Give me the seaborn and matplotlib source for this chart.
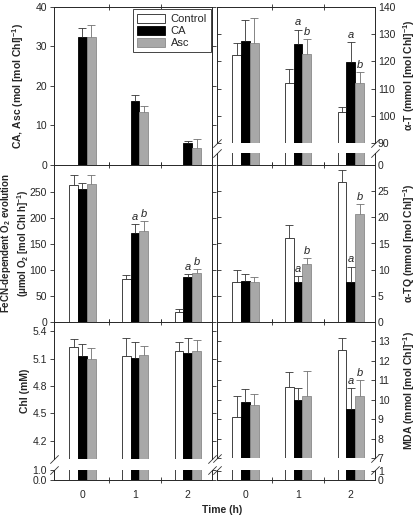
import numpy as np
import pandas as pd
import matplotlib
matplotlib.use("Agg")
import matplotlib.pyplot as plt
from matplotlib.patches import Patch
import seaborn as sns

# ── Data ───────────────────────────────────────────────────────────────────────
times = ["0", "1", "2"]
treatments = ["Control", "CA", "Asc"]

ca_asc_mean = {"Control": [np.nan, np.nan, np.nan], "CA": [32.4, 16.3, 5.5], "Asc": [32.5, 13.4, 4.2]}
ca_asc_err = {"Control": [np.nan, np.nan, np.nan], "CA": [2.2, 1.5, 0.7], "Asc": [2.9, 1.5, 2.3]}

at_mean = {"Control": [122.3, 112.0, 101.4], "CA": [127.5, 126.3, 119.9], "Asc": [126.6, 122.7, 112.0]}
at_err = {"Control": [4.5, 5.2, 2.0], "CA": [7.6, 5.4, 7.1], "Asc": [9.5, 5.5, 4.0]}

o2_mean = {"Control": [263, 83, 20], "CA": [256, 171, 87], "Asc": [265, 175, 95]}
o2_err = {"Control": [19, 8, 5], "CA": [11, 17, 5], "Asc": [17, 19, 6]}

atq_mean = {"Control": [7.6, 16.1, 26.8], "CA": [7.9, 7.6, 7.6], "Asc": [7.7, 11.0, 20.6]}
atq_err = {"Control": [2.4, 2.4, 2.3], "CA": [1.3, 1.2, 3.0], "Asc": [0.9, 1.2, 2.0]}

chl_mean = {"Control": [5.23, 5.13, 5.18], "CA": [5.13, 5.11, 5.16], "Asc": [5.10, 5.14, 5.18]}
chl_err = {"Control": [0.08, 0.20, 0.10], "CA": [0.13, 0.17, 0.17], "Asc": [0.11, 0.10, 0.12]}

mda_mean = {"Control": [9.10, 10.64, 12.57], "CA": [9.87, 10.00, 9.52], "Asc": [9.73, 10.21, 10.17]}
mda_err = {"Control": [1.11, 0.78, 0.60], "CA": [0.68, 0.62, 1.10], "Asc": [0.55, 1.28, 0.83]}

# significance letters: (treatment, time index, letter)
at_letters = [("CA", 1, "a"), ("Asc", 1, "b"), ("CA", 2, "a"), ("Asc", 2, "b")]
o2_letters = [("CA", 1, "a"), ("Asc", 1, "b"), ("CA", 2, "a"), ("Asc", 2, "b")]
atq_letters = [("CA", 1, "a"), ("Asc", 1, "b"), ("CA", 2, "a"), ("Asc", 2, "b")]
mda_letters = [("CA", 2, "a"), ("Asc", 2, "b")]

# ── Style ──────────────────────────────────────────────────────────────────────
sns.set_style("ticks")
plt.rcParams["font.family"] = ["Liberation Sans", "DejaVu Sans"]
plt.rcParams["mathtext.fontset"] = "custom"
plt.rcParams["mathtext.rm"] = "Liberation Sans:bold"
plt.rcParams["mathtext.default"] = "rm"
plt.rcParams["axes.linewidth"] = 0.7

bar_colors = {"Control": "white", "CA": "black", "Asc": "#a8a8a8"}
edge_colors = {"Control": "#222222", "CA": "black", "Asc": "#8a8a8a"}
err_colors = {"Control": "#333333", "CA": "#333333", "Asc": "#707070"}

W, H = 416, 518
FS = 7.5
BAR_W = 0.5 / 3
XLIM = (-0.54, 2.46)
fig = plt.figure(figsize=(W / 100, H / 100), dpi=100)


def add_ax(x0, x1, y0, y1):
    return fig.add_axes([x0 / W, 1 - y1 / H, (x1 - x0) / W, (y1 - y0) / H])


def long_frame(mean):
    rows = []
    for t in treatments:
        for i, tm in enumerate(times):
            if not np.isnan(mean[t][i]):
                rows.append({"time": tm, "treatment": t, "value": mean[t][i]})
    return pd.DataFrame(rows)


def bar_lookup(ax):
    """Map (treatment, group) -> patch, using the positions seaborn gave the bars."""
    out = {}
    for p in ax.patches:
        h = p.get_height()
        if h is None or np.isnan(h):
            continue
        xc = p.get_x() + p.get_width() / 2
        g = int(round(xc))
        k = int(round((xc - g) / BAR_W)) + 1
        out[(treatments[k], g)] = p
    return out


def draw_bars(ax, df):
    sns.barplot(data=df, x="time", y="value", hue="treatment", order=times,
                hue_order=treatments, palette=bar_colors, width=0.5, gap=0,
                errorbar=None, saturation=1, legend=False, linewidth=0.6, ax=ax)
    for (t, g), p in bar_lookup(ax).items():
        p.set_edgecolor(edge_colors[t])
    ax.set_xlim(*XLIM)
    ax.set_xlabel("")
    ax.set_ylabel("")
    ax.set_xticks([0.5, 1.5], minor=True)
    ax.tick_params(axis="x", which="major", length=0, labelsize=FS, pad=7)
    ax.tick_params(axis="x", which="minor", direction="inout", length=5, width=0.6,
                   bottom=True, top=True)


def draw_errors(ax, mean, err, letters):
    bars = bar_lookup(ax)
    for (t, g), p in bars.items():
        e = err[t][g]
        if np.isnan(e):
            continue
        xc = p.get_x() + p.get_width() / 2
        cont = ax.errorbar([xc], [mean[t][g]], yerr=[[0], [e]], fmt="none",
                           ecolor=err_colors[t], elinewidth=0.6, capsize=2.6, capthick=0.6)
        cont.lines[1][0].set_visible(False)
    for t, g, letter in letters:
        p = bars[(t, g)]
        xc = p.get_x() + p.get_width() / 2
        ax.annotate(letter, (xc, mean[t][g] + err[t][g]), xytext=(0, 1.5),
                    textcoords="offset points", ha="center", va="bottom",
                    fontsize=FS + 0.5, fontstyle="italic")


def style_y(ax, side, ticks, fmt=None):
    ax.set_yticks(ticks)
    if fmt:
        ax.set_yticklabels([fmt.format(v) for v in ticks])
    ax.tick_params(axis="y", which="both", left=True, right=True,
                   labelleft=(side == "left"), labelright=(side == "right"),
                   direction="out" if side == "left" else "in",
                   length=3, width=0.6, labelsize=FS, pad=2)


def break_marks(ax_up, ax_lo):
    kw = dict(marker=[(-1, -1), (1, 1)], markersize=6, linestyle="none",
              color="#333333", mec="#333333", mew=0.6, clip_on=False)
    ax_up.plot([0, 1], [0, 0], transform=ax_up.transAxes, **kw)
    ax_lo.plot([0, 1], [1, 1], transform=ax_lo.transAxes, **kw)


def set_ylabel(ax, text, side, xpos, size=FS):
    ax.set_ylabel(text, fontsize=size, fontweight="bold", linespacing=1.15)
    if side == "right":
        ax.yaxis.set_label_position("right")
    ax.yaxis.set_label_coords(xpos, 0.5)


cols = {"left": (54, 212), "right": (217, 375)}

panels = [
    dict(mean=ca_asc_mean, err=ca_asc_err, letters=[], col="left", row=(7, 165),
         ylim=(0, 40), ticks=[0, 10, 20, 30, 40], fmt=None,
         label="CA, Asc (mol [mol Chl]$^{-1}$)", lx=-0.177, xlabels=False),
    dict(mean=at_mean, err=at_err, letters=at_letters, col="right", row=(7, 143),
         ylim=(90, 140), ticks=[90, 100, 110, 120, 130, 140], fmt=None,
         label="α-T (mmol [mol Chl]$^{-1}$)", lx=1.165, xlabels=False,
         lower=dict(row=(153, 165), ylim=(0, 4), ticks=[0], fmt=None)),
    dict(mean=o2_mean, err=o2_err, letters=o2_letters, col="left", row=(165, 322),
         ylim=(0, 302), ticks=[0, 50, 100, 150, 200, 250], fmt=None,
         label="FeCN-dependent O$_2$ evolution\n(μmol O$_2$ [mol Chl h]$^{-1}$)", lx=-0.146,
         xlabels=False, lsize=7),
    dict(mean=atq_mean, err=atq_err, letters=atq_letters, col="right", row=(165, 322),
         ylim=(0, 30), ticks=[0, 5, 10, 15, 20, 25], fmt=None,
         label="α-TQ (mmol [mol Chl]$^{-1}$)", lx=1.165, xlabels=False),
    dict(mean=chl_mean, err=chl_err, letters=[], col="left", row=(322, 459),
         ylim=(4.0, 5.5), ticks=[4.2, 4.5, 4.8, 5.1, 5.4], fmt="{:.1f}",
         label="Chl (mM)", lx=-0.152, xlabels=True,
         lower=dict(row=(470, 480), ylim=(0, 1.0), ticks=[0.0, 1.0], fmt="{:.1f}")),
    dict(mean=mda_mean, err=mda_err, letters=mda_letters, col="right", row=(322, 458),
         ylim=(7, 14), ticks=[7, 8, 9, 10, 11, 12, 13], fmt=None,
         label="MDA (mmol [mol Chl]$^{-1}$)", lx=1.165, xlabels=True,
         lower=dict(row=(470, 480), ylim=(0, 1.1), ticks=[0, 1], fmt=None)),
]

axes_main = []
for pnl in panels:
    x0, x1 = cols[pnl["col"]]
    df = long_frame(pnl["mean"])
    ax = add_ax(x0, x1, *pnl["row"])
    draw_bars(ax, df)
    ax.set_ylim(*pnl["ylim"])
    style_y(ax, pnl["col"], pnl["ticks"], pnl["fmt"])
    draw_errors(ax, pnl["mean"], pnl["err"], pnl["letters"])
    set_ylabel(ax, pnl["label"], pnl["col"], pnl["lx"], pnl.get("lsize", FS))
    lower = pnl.get("lower")
    if lower:
        ax.spines["bottom"].set_visible(False)
        ax.tick_params(axis="x", which="both", bottom=False, labelbottom=False)
        axl = add_ax(x0, x1, *lower["row"])
        draw_bars(axl, df)
        axl.set_ylim(*lower["ylim"])
        style_y(axl, pnl["col"], lower["ticks"], lower["fmt"])
        axl.spines["top"].set_visible(False)
        axl.tick_params(axis="x", which="both", top=False, labelbottom=pnl["xlabels"])
        break_marks(ax, axl)
    else:
        ax.tick_params(axis="x", labelbottom=pnl["xlabels"])
    axes_main.append(ax)

# legend in the top-left panel
handles = [Patch(facecolor=bar_colors[t], edgecolor=edge_colors[t], linewidth=0.6, label=t)
           for t in treatments]
leg = axes_main[0].legend(handles=handles, loc="upper right", bbox_to_anchor=(1.03, 1.02),
                          fontsize=FS + 0.5, frameon=True, fancybox=False, framealpha=1,
                          edgecolor="#444444", handlelength=2.5, handleheight=0.85,
                          labelspacing=0.15, borderpad=0.4, handletextpad=0.5)
leg.get_frame().set_linewidth(0.7)
leg.set_zorder(10)

fig.text(222 / W, 1 - 510 / H, "Time (h)", ha="center", va="center",
         fontsize=FS, fontweight="bold")

fig.savefig("out.png", dpi=100)
